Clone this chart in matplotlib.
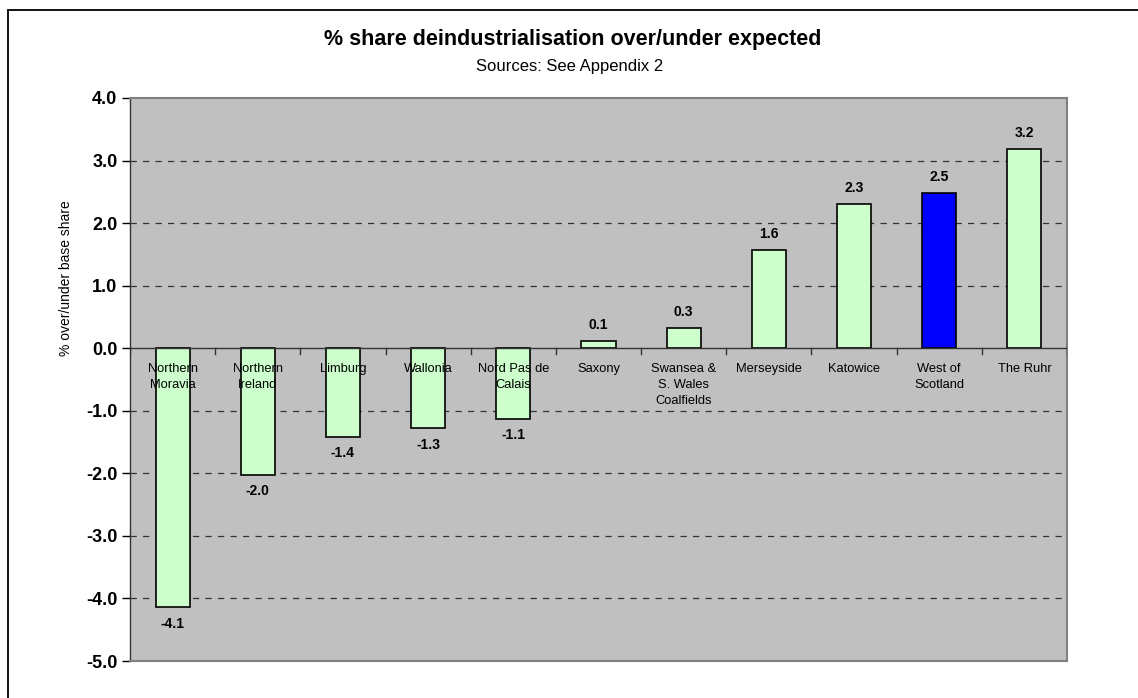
import matplotlib
matplotlib.use('Agg')
import matplotlib.pyplot as plt
import numpy as np
from matplotlib.patches import Rectangle

plt.rcParams['font.family'] = ['Liberation Sans', 'DejaVu Sans']

# Data
REGIONS = ['Northern\nMoravia', 'Northern\nIreland', 'Limburg', 'Wallonia',
           'Nord Pas de\nCalais', 'Saxony', 'Swansea &\nS. Wales\nCoalfields',
           'Merseyside', 'Katowice', 'West of\nScotland', 'The Ruhr']
VALUES = [-4.14, -2.02, -1.42, -1.28, -1.13, 0.12, 0.32, 1.57, 2.31, 2.48, 3.18]
HIGHLIGHT = 'West of\nScotland'
Y_TICKS = [-5, -4, -3, -2, -1, 0, 1, 2, 3, 4]

W, H = 1138, 698
fig = plt.figure(figsize=(W / 100, H / 100), dpi=100)
ax = fig.add_axes([130 / W, 1 - 661 / H, 937 / W, 563 / H])

x = np.arange(len(REGIONS))
colors = ['#0000FF' if r == HIGHLIGHT else '#CCFFCC' for r in REGIONS]
ax.bar(x, VALUES, width=0.4, color=colors, edgecolor='black', linewidth=1.2, zorder=2)

ax.set_facecolor('#C0C0C0')
ax.set_xlim(-0.5, len(REGIONS) - 0.5)
ax.set_ylim(-5, 4)
ax.set_yticks(Y_TICKS)
ax.set_yticklabels([f'{v:.1f}' for v in Y_TICKS], fontsize=13, fontweight='bold')
ax.tick_params(axis='y', direction='out', length=6, width=1, pad=3)

for g in Y_TICKS[1:-1]:
    if g != 0:
        ax.axhline(g, color='#333333', linestyle=(0, (5, 5)), linewidth=0.9, zorder=1)

# x axis at zero with category boundary ticks
ax.axhline(0, color='#333333', linewidth=1, zorder=3)
ax.set_xticks([])
for b in np.arange(-0.5, len(REGIONS), 1.0):
    ax.plot([b, b], [0, -0.09], color='#333333', linewidth=1, zorder=3)

for xi, name in zip(x, REGIONS):
    ax.text(xi, -0.23, name, ha='center', va='top', fontsize=9.3,
            linespacing=1.48, zorder=4)

for xi, v in zip(x, VALUES):
    if v >= 0:
        ax.text(xi, v + 0.19, f'{v:.1f}', ha='center', va='baseline',
                fontsize=10, fontweight='bold', zorder=4)
    else:
        ax.text(xi, v - 0.15, f'{v:.1f}', ha='center', va='top',
                fontsize=10, fontweight='bold', zorder=4)

for side in ['top', 'right', 'bottom']:
    ax.spines[side].set_color('#808080')
    ax.spines[side].set_linewidth(1.5)
ax.spines['left'].set_color('#333333')
ax.spines['left'].set_linewidth(1)

fig.text(573 / W, 1 - 40 / H, '% share deindustrialisation over/under expected',
         ha='center', va='center', fontsize=15.5, fontweight='bold')
fig.text(570 / W, 1 - 67 / H, 'Sources: See Appendix 2',
         ha='center', va='center', fontsize=12)
fig.text(66 / W, 1 - 278 / H, '% over/under base share', rotation=90,
         ha='center', va='center', fontsize=10)

# outer chart frame (runs off the right and bottom edges)
fig.patches.append(Rectangle((8 / W, -0.1), 1.2, 1 - 10 / H + 0.1,
                             transform=fig.transFigure, fill=False,
                             edgecolor='black', linewidth=1.3))

fig.savefig('out.png', dpi=100)
